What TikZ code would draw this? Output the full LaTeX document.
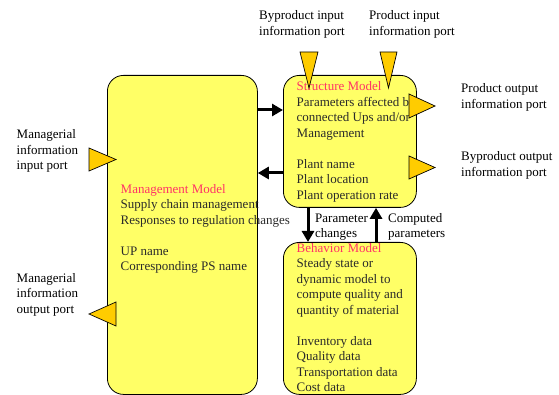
\documentclass[tikz,border=0pt]{standalone}
\usepackage{fontspec}
\setmainfont{Liberation Serif}
\usetikzlibrary{arrows.meta}
\definecolor{boxyellow}{HTML}{FFFF66}
\definecolor{portgold}{HTML}{FFCC00}
\definecolor{titlered}{HTML}{FF3366}
\definecolor{bodytext}{HTML}{2A2A2A}
\tikzset{
  model/.style={draw=black, line width=0.8pt, fill=boxyellow, rounded corners=16pt,
    inner sep=0pt, anchor=north west},
  % multi-line texts are placed by the baseline of their last line
  body/.style={anchor=base west, align=left, inner sep=0pt, text=bodytext,
    font=\fontsize{13}{15.5}\selectfont},
  label/.style={anchor=base west, align=left, inner sep=0pt, text=black,
    font=\fontsize{13}{15.5}\selectfont},
  port/.style={draw=black, line width=0.7pt, fill=portgold},
  flow/.style={line width=3pt, -{Triangle[width=12pt,length=11pt]}},
}
\begin{document}
\begin{tikzpicture}[x=1pt, y=-1pt]
\useasboundingbox (0,0) rectangle (559,395);
\clip (0,0) rectangle (559,395);

% model boxes
\node[model, minimum width=150pt, minimum height=319pt] (mgmt) at (107,75) {};
\node[model, minimum width=133pt, minimum height=132pt] (struct) at (283,75) {};
\node[model, minimum width=133pt, minimum height=152pt] (behav) at (283,242) {};

% box contents
\node[body] (mgmttxt) at (120.5,270.5) {\textcolor{titlered}{Management Model}\\
  Supply chain management\\ Responses to regulation changes\\ ~\\ UP name\\ Corresponding PS name};
\node[body] (structtxt) at (296.5,199.5) {\textcolor{titlered}{Structure Model}\\
  Parameters affected by\\ connected Ups and/or\\ Management\\ ~\\ Plant name\\ Plant location\\ Plant operation rate};
\node[body] (behavtxt) at (296.5,391.5) {\textcolor{titlered}{Behavior Model}\\
  Steady state or\\ dynamic model to\\ compute quality and\\ quantity of material\\ ~\\
  Inventory data\\ Quality data\\ Transportation data\\ Cost data};

% information exchange between models
\draw[flow] (mgmt.east |- 0,110) -- (struct.west |- 0,110);
\draw[flow] (struct.west |- 0,173) -- (mgmt.east |- 0,173);
\draw[flow] (struct.south -| 308,0) -- (behav.north -| 308,0);
\draw[flow] (behav.north -| 376,0) -- (struct.south -| 376,0);
\node[label] (parchg) at (315,238) {Parameter\\ changes};
\node[label] (compar) at (388,238) {Computed\\ parameters};

% ports
\filldraw[port] (89,148) -- (116,159.5) -- (89,171) -- cycle;
\filldraw[port] (116,302) -- (89,314) -- (116,326) -- cycle;
\filldraw[port] (300,52) -- (318,52) -- (309,88) -- cycle;
\filldraw[port] (380,52) -- (397,52) -- (388.5,88) -- cycle;
\filldraw[port] (409,94) -- (435,106) -- (409,118) -- cycle;
\filldraw[port] (409,156) -- (435,167.5) -- (409,179) -- cycle;

% port labels
\node[label] (mip) at (16.5,170) {Managerial\\ information\\ input port};
\node[label] (mop) at (16.5,313) {Managerial\\ information\\ output port};
\node[label] (bip) at (259,35.5) {Byproduct input\\ information port};
\node[label] (pip) at (369,35.5) {Product input\\ information port};
\node[label] (pop) at (461,108.5) {Product output\\ information port};
\node[label] (bop) at (461,176.5) {Byproduct output\\ information port};
\end{tikzpicture}
\end{document}
